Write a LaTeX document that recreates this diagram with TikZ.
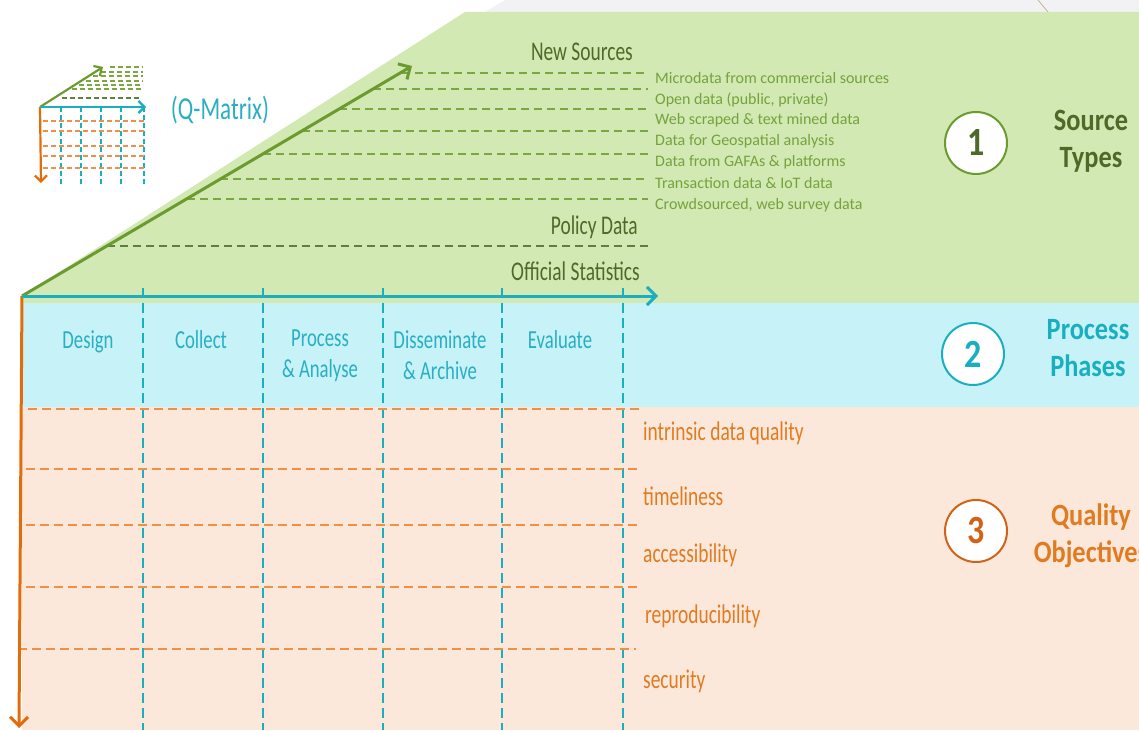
\documentclass[tikz,border=0pt]{standalone}
\usepackage{fontspec}
\setmainfont{Carlito}[FakeStretch=0.72]
\newfontfamily\listfont{Carlito}
\newfontfamily\headfont{Carlito}[FakeStretch=0.85]
\usepackage{tikz}
\usetikzlibrary{arrows.meta,positioning}

\definecolor{topgrey}{HTML}{F1F2F4}
\definecolor{tanline}{HTML}{C9B58C}
\definecolor{srcfill}{HTML}{D2E9B4}
\definecolor{phasefill}{HTML}{C6F2F8}
\definecolor{qualfill}{HTML}{FCE8DA}
\definecolor{srcarrow}{HTML}{6B9A2F}
\definecolor{srcline}{HTML}{7AA740}
\definecolor{srcdark}{HTML}{4F6A28}
\definecolor{srclist}{HTML}{76A23C}
\definecolor{policyline}{HTML}{5F803B}
\definecolor{phasearrow}{HTML}{1AAFC0}
\definecolor{phasetext}{HTML}{2AAFC2}
\definecolor{qualarrow}{HTML}{E36C0A}
\definecolor{qualline}{HTML}{EE9048}
\definecolor{qualtext}{HTML}{E07B22}
\definecolor{qualdark}{HTML}{D0621A}

\begin{document}
\begin{tikzpicture}[x=1pt,y=-1pt,
    barb/.style={-{Straight Barb[length=9pt,width=18pt,line width=3pt]}},
    srcaxis/.style={barb, draw=srcarrow, line width=3pt},
    phaseaxis/.style={barb, draw=phasearrow, line width=3pt},
    qualaxis/.style={barb, draw=qualarrow, line width=3pt},
    srcdash/.style={draw=srcline, line width=1.5pt, dash pattern=on 8pt off 5pt},
    policydash/.style={draw=policyline, line width=1.5pt, dash pattern=on 8pt off 5pt},
    phasedash/.style={draw=phasearrow, line width=1.2pt, dash pattern=on 10pt off 5pt},
    qualdash/.style={draw=qualline, line width=1.5pt, dash pattern=on 9pt off 5pt},
    srclabel/.style={text=srcdark, font=\fontsize{27}{32}\selectfont, anchor=base east, inner sep=0pt},
    srcitem/.style={text=srclist, font=\listfont\fontsize{16}{19}\selectfont, anchor=west, inner sep=0pt, text height=11pt, text depth=3pt},
    phaselabel/.style={text=phasetext, font=\fontsize{26}{31}\selectfont, align=center, anchor=north, inner sep=0pt},
    quallabel/.style={text=qualtext, font=\fontsize{27}{32}\selectfont, anchor=west, inner sep=0pt},
    numcircle/.style={circle, fill=white, line width=2pt, minimum size=62pt, inner sep=0pt, font=\headfont\bfseries\fontsize{40}{44}\selectfont},
    heading/.style={font=\headfont\bfseries\fontsize{31}{37}\selectfont, align=center, inner sep=0pt},
    icondash/.style={line width=1.2pt, dash pattern=on 5pt off 3pt},
    iconbarb/.style={line width=2.2pt, -{Straight Barb[length=6pt,width=12pt,line width=2.2pt]}}]
\useasboundingbox (0,0) rectangle (1139,730);

% background bands
\fill[topgrey] (505,0) -- (1139,0) -- (1139,12) -- (485,12) -- cycle;
\draw[tanline, line width=0.8pt] (1038,0) -- (1048,12);
\fill[srcfill] (22,296) -- (465,12) -- (1139,12) -- (1139,303) -- (22,303) -- cycle;
\fill[phasefill] (22,303) rectangle (1139,407);
\fill[qualfill] (22,407) rectangle (1139,730);

% source type rows
\draw[srcdash] (402,73) -- (648,73);
\draw[srcdash] (373,89) -- (648,89);
\draw[srcdash] (339,109) -- (648,109);
\draw[srcdash] (302,131) -- (648,131);
\draw[srcdash] (263,154) -- (648,154);
\draw[srcdash] (220,179) -- (648,179);
\draw[srcdash] (187,199) -- (648,199);
\draw[policydash] (107,246) -- (648,246);

% phase columns
\draw[phasedash] (143,288) -- (143,730);
\draw[phasedash] (263,288) -- (263,730);
\draw[phasedash] (383,288) -- (383,730);
\draw[phasedash] (502,288) -- (502,730);
\draw[phasedash] (623,288) -- (623,730);

% quality rows
\draw[qualdash] (28,409) -- (642,409);
\draw[qualdash] (26,469) -- (640,469);
\draw[qualdash] (26,525) -- (640,525);
\draw[qualdash] (26,587) -- (638,587);
\draw[qualdash] (18,649) -- (636,649);

% axes
\coordinate (origin) at (22,296);
\coordinate (srctip) at (412,66);
\coordinate (phasetip) at (658,296);
\coordinate (qualtip) at (19,728);
\draw[srcaxis] (origin) -- (srctip);
\draw[qualaxis] (origin) -- (qualtip);
\draw[phaseaxis] (origin) -- (phasetip);

% source labels
\node[srclabel] (newsrc) at (633,61) {New Sources};
\node[srclabel] (policy) at (638,234) {Policy Data};
\node[srclabel] (official) at (640,280) {Official Statistics};
\node[srcitem] (micro) at (655,80) {Microdata from commercial sources};
\node[srcitem] (open) at (655,101) {Open data (public, private)};
\node[srcitem] (scraped) at (655,121) {Web scraped \& text mined data};
\node[srcitem] (geo) at (655,142) {Data for Geospatial analysis};
\node[srcitem] (gafa) at (655,163) {Data from GAFAs \& platforms};
\node[srcitem] (iot) at (655,184) {Transaction data \& IoT data};
\node[srcitem] (crowd) at (655,205) {Crowdsourced, web survey data};

% phase labels
\node[phaselabel] (design) at (88,330) {Design};
\node[phaselabel] (collect) at (201,330) {Collect};
\node[phaselabel] (analyse) at (320,330) {Process\\\& Analyse};
\node[phaselabel] (archive) at (440,330) {Disseminate\\\& Archive};
\node[phaselabel] (evaluate) at (560,330) {Evaluate};

% quality labels
\node[quallabel] (intrinsic) at (643,433) {intrinsic data quality};
\node[quallabel] (timely) at (643,496) {timeliness};
\node[quallabel] (access) at (643,555) {accessibility};
\node[quallabel] (repro) at (645,616) {reproducibility};
\node[quallabel] (security) at (643,681) {security};

% numbered dimensions
\node[numcircle, draw=srcarrow, text=srcdark] (one) at (976,143) {1};
\node[numcircle, draw=phasearrow, text=phasearrow] (two) at (973,354) {2};
\node[numcircle, draw=qualdark, text=qualdark] (three) at (976,531) {3};
\node[heading, text=srcdark] (srctypes) at ([xshift=115pt, yshift=2pt]one.center) {Source\\Types};
\node[heading, text=phasearrow] (phases) at ([xshift=115pt, yshift=5.5pt]two.center) {Process\\Phases};
\node[heading, text=qualtext] (objectives) at ([xshift=115pt, yshift=-4.5pt]three.center) {Quality\\Objectives};

% small Q-Matrix icon
\draw[srcline, icondash] (110,67) -- (143,67);
\draw[srcline, icondash] (101,72) -- (143,72);
\draw[srcline, icondash] (93,76) -- (143,76);
\draw[srcline, icondash] (86,81) -- (143,81);
\draw[srcline, icondash] (79,85) -- (143,85);
\draw[srcline, icondash] (72,89) -- (143,89);
\draw[policyline, icondash] (62,98) -- (140,98);
\draw[phasearrow, icondash] (61,107) -- (61,185);
\draw[phasearrow, icondash] (81,107) -- (81,185);
\draw[phasearrow, icondash] (101,107) -- (101,185);
\draw[phasearrow, icondash] (121,107) -- (121,185);
\draw[phasearrow, icondash] (144,107) -- (144,186);
\draw[qualline, icondash] (43,121) -- (144,121);
\draw[qualline, icondash] (43,131) -- (144,131);
\draw[qualline, icondash] (43,146) -- (144,146);
\draw[qualline, icondash] (43,156) -- (144,156);
\draw[qualline, icondash] (43,168) -- (144,168);
\coordinate (iconorigin) at (40,107);
\coordinate (iconsrc) at (103,67);
\coordinate (iconphase) at (146,107);
\coordinate (iconqual) at (41,183);
\draw[iconbarb, draw=srcarrow] (iconorigin) -- (iconsrc);
\draw[iconbarb, draw=qualarrow] (iconorigin) -- (iconqual);
\draw[iconbarb, draw=phasearrow] (iconorigin) -- (iconphase);
\node[text=phasetext, font=\fontsize{32}{36}\selectfont, inner sep=0pt] (qmatrix) at (220,110) {(Q-Matrix)};
\end{tikzpicture}
\end{document}
